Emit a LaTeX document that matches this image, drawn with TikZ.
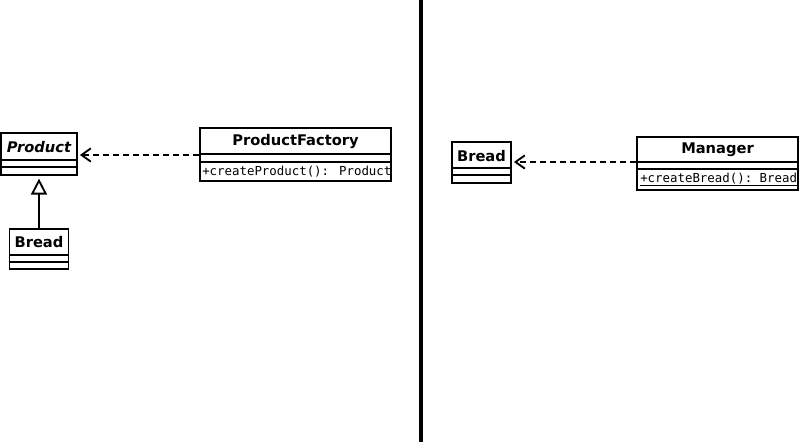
\documentclass[tikz,border=0pt]{standalone}
\usepackage{fontspec}
\usetikzlibrary{arrows.meta}
\newfontfamily\umlsans{DejaVu Sans}
\newfontfamily\umlmono{DejaVu Sans Mono}
\begin{document}
\begin{tikzpicture}[x=0.75pt,y=-0.75pt,
  classbox/.style={draw, line width=1.4pt, inner sep=0pt, fill=white},
  title/.style={font=\umlsans\bfseries\fontsize{11}{13}\selectfont, inner sep=0pt},
  method/.style={font=\umlmono\fontsize{9.3}{11}\selectfont, inner sep=0pt, anchor=west},
  sep/.style={line width=1.4pt},
  dep/.style={line width=1.4pt, dash pattern=on 4.5pt off 3pt, -{Straight Barb[length=7pt,width=10pt,line width=1.4pt]}, shorten >=1.5pt},
  inh/.style={line width=1.4pt, -{Triangle[open,length=12pt,width=12pt,line width=1.4pt]}, shorten >=2pt}]
\useasboundingbox (0,0) rectangle (800,442);

% left side
\node[classbox, minimum width=57pt, minimum height=31.5pt] (product) at (39,154) {};
\node[title, font=\umlsans\bfseries\itshape\fontsize{11}{13}\selectfont] (productT) at (39,147) {Product};
\draw[sep] (product.west |- 0,160) -- (product.east |- 0,160);
\draw[sep] (product.west |- 0,167) -- (product.east |- 0,167);

\node[classbox, minimum width=44.25pt, minimum height=30pt] (breadL) at (39,249) {};
\node[title] (breadLT) at (39,242.5) {Bread};
\draw[sep] (breadL.west |- 0,255) -- (breadL.east |- 0,255);
\draw[sep] (breadL.west |- 0,262) -- (breadL.east |- 0,262);

\node[classbox, minimum width=143.25pt, minimum height=39.75pt] (pf) at (295.5,154.5) {};
\node[title] (pfT) at (295.5,142) {ProductFactory};
\draw[sep] (pf.west |- 0,154) -- (pf.east |- 0,154);
\draw[sep] (pf.west |- 0,162) -- (pf.east |- 0,162);
\node[method] (pfM) at (202,172) {+createProduct(): Product};

\draw[inh] (breadL.north) -- (product.south);
\draw[dep] (pf.west |- 0,155) -- (product.east |- 0,155);

% divider
\coordinate (divtop) at (421,0);
\coordinate (divbot) at (421,442);
\draw[line width=2.4pt] (divtop) -- (divbot);

% right side
\node[classbox, minimum width=44.25pt, minimum height=30.75pt] (breadR) at (481.5,162.5) {};
\node[title] (breadRT) at (481.5,156) {Bread};
\draw[sep] (breadR.west |- 0,168) -- (breadR.east |- 0,168);
\draw[sep] (breadR.west |- 0,175) -- (breadR.east |- 0,175);

\node[classbox, minimum width=120.75pt, minimum height=39.75pt] (mgr) at (717.5,163.5) {};
\node[title] (mgrT) at (717.5,150) {Manager};
\draw[sep] (mgr.west |- 0,162) -- (mgr.east |- 0,162);
\draw[sep] (mgr.west |- 0,169) -- (mgr.east |- 0,169);
\node[method] (mgrM) at (640,179.5) {\underline{+createBread():\ Bread}};

\draw[dep] (mgr.west |- 0,162) -- (breadR.east |- 0,162);
\end{tikzpicture}
\end{document}
